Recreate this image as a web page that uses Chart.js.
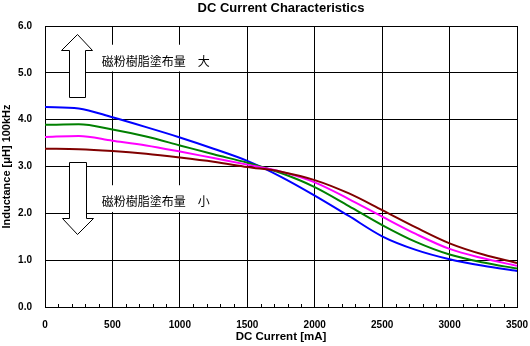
<!DOCTYPE html>
<html>
<head>
<meta charset="utf-8">
<script src="https://cdn.jsdelivr.net/npm/chart.js@4/dist/chart.umd.min.js"></script>
<style>
  html, body { margin: 0; padding: 0; background: #ffffff; }
  #wrap { width: 530px; height: 346px; position: relative; }
</style>
</head>
<body>
<div id="wrap"><canvas id="c"></canvas></div>
<script>
// ---- data ----
const currents = [0, 250, 500, 750, 1000, 1250, 1500, 1750, 2000, 2250, 2500, 2750, 3000, 3250, 3500];
const seriesBlue    = [4.27, 4.24, 4.05, 3.84, 3.62, 3.38, 3.12, 2.78, 2.38, 1.95, 1.51, 1.22, 1.02, 0.88, 0.77];
const seriesGreen   = [3.89, 3.90, 3.79, 3.64, 3.45, 3.26, 3.08, 2.86, 2.56, 2.16, 1.75, 1.39, 1.12, 0.95, 0.82];
const seriesMagenta = [3.63, 3.65, 3.55, 3.45, 3.32, 3.18, 3.04, 2.89, 2.66, 2.31, 1.93, 1.56, 1.24, 1.04, 0.88];
const seriesDarkRed = [3.38, 3.37, 3.33, 3.27, 3.19, 3.10, 2.99, 2.89, 2.71, 2.43, 2.07, 1.70, 1.36, 1.12, 0.94];
const xTicks = [0, 500, 1000, 1500, 2000, 2500, 3000, 3500];
const yTicks = [0, 1, 2, 3, 4, 5, 6];
const labelUp = '磁粉樹脂塗布量\u3000大';
const labelDown = '磁粉樹脂塗布量\u3000小';

const toPoints = arr => arr.map((v, i) => ({ x: currents[i], y: v }));

// annotation geometry (in data units)
const annot = {
  up:   { cx: 236, tip: 5.83, headBase: 5.49, shaftEnd: 4.48, shaftL: 180, shaftR: 298, headL: 119, headR: 348 },
  down: { cx: 238, tip: 1.55, headBase: 1.90, shaftEnd: 3.10, shaftL: 180, shaftR: 302, headL: 124, headR: 354 },
  boxUp:   { x0: 300, x1: 1300, y0: 5.60, y1: 5.03, tx: 420, ty: 5.24 },
  boxDown: { x0: 305, x1: 1300, y0: 2.60, y1: 2.03, tx: 420, ty: 2.25 }
};

const decorPlugin = {
  id: 'decor',
  beforeDatasetsDraw(chart) {
    const { ctx, scales: { x, y } } = chart;
    const X = v => x.getPixelForValue(v), Y = v => y.getPixelForValue(v);
    ctx.save();
    // minor ticks every 100 mA on the bottom axis
    ctx.strokeStyle = '#000';
    ctx.lineWidth = 1;
    ctx.beginPath();
    for (let v = 100; v < 3500; v += 100) {
      if (v % 500 === 0) continue;
      const px = Math.round(X(v)) + 0.5;
      ctx.moveTo(px, y.bottom);
      ctx.lineTo(px, y.bottom - 3);
    }
    ctx.stroke();
    // white boxes behind the labels
    ctx.fillStyle = '#fff';
    [annot.boxUp, annot.boxDown].forEach(b => {
      ctx.fillRect(X(b.x0), Y(b.y0), X(b.x1) - X(b.x0), Y(b.y1) - Y(b.y0));
    });
    // arrows
    const arrow = a => {
      ctx.beginPath();
      ctx.moveTo(Math.round(X(a.cx)) + 0.5, Math.round(Y(a.tip)) + 0.5);
      ctx.lineTo(Math.round(X(a.headR)) + 0.5, Math.round(Y(a.headBase)) + 0.5);
      ctx.lineTo(Math.round(X(a.shaftR)) + 0.5, Math.round(Y(a.headBase)) + 0.5);
      ctx.lineTo(Math.round(X(a.shaftR)) + 0.5, Math.round(Y(a.shaftEnd)) + 0.5);
      ctx.lineTo(Math.round(X(a.shaftL)) + 0.5, Math.round(Y(a.shaftEnd)) + 0.5);
      ctx.lineTo(Math.round(X(a.shaftL)) + 0.5, Math.round(Y(a.headBase)) + 0.5);
      ctx.lineTo(Math.round(X(a.headL)) + 0.5, Math.round(Y(a.headBase)) + 0.5);
      ctx.closePath();
      ctx.fillStyle = '#fff';
      ctx.fill();
      ctx.strokeStyle = '#000';
      ctx.lineWidth = 1;
      ctx.stroke();
    };
    arrow(annot.up);
    arrow(annot.down);
    // labels
    ctx.fillStyle = '#000';
    ctx.font = '12px "Noto Sans CJK JP"';
    ctx.textBaseline = 'middle';
    ctx.textAlign = 'left';
    ctx.fillText(labelUp, X(annot.boxUp.tx), Y(annot.boxUp.ty));
    ctx.fillText(labelDown, X(annot.boxDown.tx), Y(annot.boxDown.ty));
    ctx.restore();
  }
};

const mk = (data, color) => ({
  data: toPoints(data),
  borderColor: color,
  backgroundColor: color,
  borderWidth: 2,
  pointRadius: 0,
  fill: false,
  cubicInterpolationMode: 'monotone'
});

new Chart(document.getElementById('c'), {
  type: 'line',
  data: {
    datasets: [
      mk(seriesDarkRed, '#800000'),
      mk(seriesMagenta, '#ff00ff'),
      mk(seriesGreen, '#008000'),
      mk(seriesBlue, '#0000ff')
    ]
  },
  options: {
    responsive: true,
    maintainAspectRatio: false,
    animation: false,
    layout: { padding: { top: 0, left: 0, right: 13, bottom: 0 } },
    plugins: {
      legend: { display: false },
      tooltip: { enabled: false },
      title: {
        display: true,
        text: 'DC Current Characteristics',
        fullSize: false,
        color: '#000',
        font: { family: '"Liberation Sans", Arial, sans-serif', size: 13, weight: 'bold', lineHeight: 1.2 },
        padding: { top: 0.5, bottom: 9.9 }
      }
    },
    scales: {
      x: {
        type: 'linear',
        min: 0, max: 3500,
        afterBuildTicks: s => { s.ticks = xTicks.map(v => ({ value: v })); },
        afterFit: s => { s.height = 39; s.paddingRight = 0; s.paddingLeft = 0; },
        grid: { color: '#000', lineWidth: 1, drawTicks: false },
        border: { color: '#000', width: 1 },
        ticks: {
          autoSkip: false, maxRotation: 0, padding: 12, color: '#000',
          font: { family: '"Liberation Sans", Arial, sans-serif', size: 10, weight: 'bold' },
          callback: v => String(v)
        },
        title: {
          display: true, text: 'DC Current [mA]', color: '#000',
          font: { family: '"Liberation Sans", Arial, sans-serif', size: 11.5, weight: 'bold', lineHeight: 1.2 },
          padding: { top: 0, bottom: 2 }
        }
      },
      y: {
        type: 'linear',
        min: 0, max: 6,
        afterBuildTicks: s => { s.ticks = yTicks.map(v => ({ value: v })); },
        afterFit: s => { s.width = 45; },
        grid: { color: '#000', lineWidth: 1, drawTicks: false },
        border: { color: '#000', width: 1 },
        ticks: {
          padding: 13, color: '#000',
          font: { family: '"Liberation Sans", Arial, sans-serif', size: 10, weight: 'bold' },
          callback: v => Number(v).toFixed(1)
        },
        title: {
          display: true, text: 'Inductance [μH] 100kHz', color: '#000',
          font: { family: '"Liberation Sans", Arial, sans-serif', size: 11, weight: 'bold', lineHeight: 1.2 },
          padding: { top: 0, bottom: 0 }
        }
      }
    }
  },
  plugins: [decorPlugin]
});
</script>
</body>
</html>
